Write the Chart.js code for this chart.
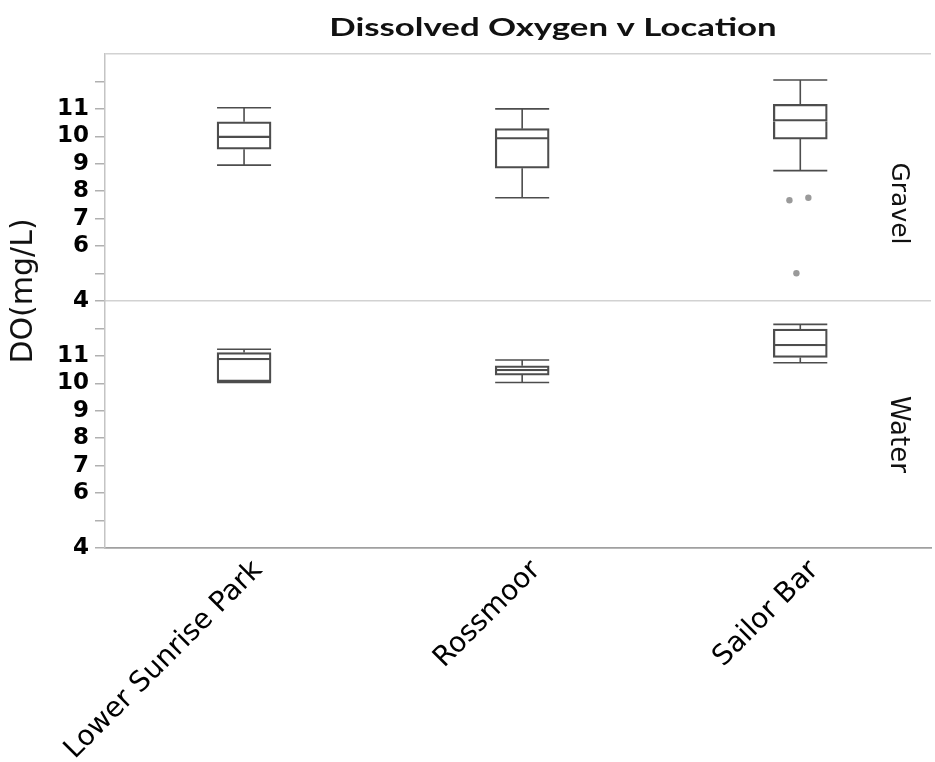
<!DOCTYPE html>
<html>
<head>
<meta charset="utf-8">
<script src="https://cdn.jsdelivr.net/npm/chart.js@4.4.1/dist/chart.umd.min.js"></script>
<style>
  html, body { margin: 0; padding: 0; background: #ffffff; }
  #wrap { width: 935px; height: 762px; }
</style>
</head>
<body>
<div id="wrap"><canvas id="c"></canvas></div>
<script>
// Dissolved oxygen (mg/L) by sampling location, split by habitat
const locations = ['Lower Sunrise Park', 'Rossmoor', 'Sailor Bar'];

// Gravel: five-number summaries per location
const gravelMin    = [8.95, 7.76, 8.75];
const gravelQ1     = [9.53, 8.84, 9.90];
const gravelMedian = [9.95, 9.90, 10.55];
const gravelQ3     = [10.53, 10.28, 11.17];
const gravelMax    = [11.04, 11.00, 12.05];

// Water: five-number summaries per location
const waterMin    = [10.03, 10.03, 10.75];
const waterQ1     = [10.06, 10.30, 10.94];
const waterMedian = [10.85, 10.45, 11.36];
const waterQ3     = [11.12, 10.64, 11.98];
const waterMax    = [11.24, 10.85, 12.15];

// Gravel outliers at Sailor Bar (x = location index, jittered)
const gravelOutliers = [
  { x: 1.961, y: 7.67 },
  { x: 2.029, y: 7.76 },
  { x: 1.986, y: 5.01 }
];

// Value axis ticks (each panel)
const yTickValues = [4, 5, 6, 7, 8, 9, 10, 11, 12, 13];
const yTickLabels = { 4: '4', 6: '6', 7: '7', 8: '8', 9: '9', 10: '10', 11: '11' };

const BOX_COLOR = '#4d4d4d';
const BOX_WIDTH = 54;
const LINE_W = 1.6;

// one half of a box: lower half has no top edge, so the median is a single line
function boxPart(lo, hi, axisId, withTop) {
  return {
    type: 'bar',
    yAxisID: axisId,
    data: locations.map((_, i) => ({ x: i, y: [lo[i], hi[i]] })),
    grouped: false,
    barThickness: BOX_WIDTH,
    borderWidth: { top: withTop ? LINE_W : 0, bottom: LINE_W, left: LINE_W, right: LINE_W },
    borderColor: BOX_COLOR,
    backgroundColor: 'rgba(255,255,255,0)',
    borderSkipped: false
  };
}

// whiskers and end caps drawn through the chart's scales
const whiskerPlugin = {
  id: 'whiskers',
  afterDatasetsDraw(chart) {
    const { ctx } = chart;
    const xs = chart.scales.x;
    const panels = [
      { scale: chart.scales.yGravel, min: gravelMin, q1: gravelQ1, q3: gravelQ3, max: gravelMax },
      { scale: chart.scales.yWater, min: waterMin, q1: waterQ1, q3: waterQ3, max: waterMax }
    ];
    ctx.save();
    ctx.strokeStyle = BOX_COLOR;
    ctx.lineWidth = LINE_W;
    panels.forEach(p => {
      locations.forEach((_, i) => {
        const cx = xs.getPixelForValue(i);
        const half = BOX_WIDTH / 2;
        const yMin = p.scale.getPixelForValue(p.min[i]);
        const yQ1 = p.scale.getPixelForValue(p.q1[i]);
        const yQ3 = p.scale.getPixelForValue(p.q3[i]);
        const yMax = p.scale.getPixelForValue(p.max[i]);
        ctx.beginPath();
        ctx.moveTo(cx, yQ3); ctx.lineTo(cx, yMax);
        ctx.moveTo(cx, yQ1); ctx.lineTo(cx, yMin);
        ctx.moveTo(cx - half, yMax); ctx.lineTo(cx + half, yMax);
        ctx.moveTo(cx - half, yMin); ctx.lineTo(cx + half, yMin);
        ctx.stroke();
      });
    });
    ctx.restore();
  }
};

// title, value-axis title and panel labels
const labelsPlugin = {
  id: 'panelLabels',
  afterDraw(chart) {
    const { ctx, chartArea } = chart;
    const g = chart.scales.yGravel;
    const w = chart.scales.yWater;
    ctx.save();
    ctx.fillStyle = '#111111';

    // chart title
    ctx.save();
    ctx.translate(553, 28);
    ctx.scale(1.45, 1);
    ctx.font = 'bold 24px Lato';
    ctx.textAlign = 'center';
    ctx.textBaseline = 'middle';
    ctx.fillText('Dissolved Oxygen v Location', 0, 0);
    ctx.restore();

    // value axis title
    ctx.save();
    ctx.translate(24, 291);
    ctx.rotate(-Math.PI / 2);
    ctx.font = '30px "DejaVu Sans"';
    ctx.textAlign = 'center';
    ctx.textBaseline = 'middle';
    ctx.fillText('DO(mg/L)', 0, 0);
    ctx.restore();

    // panel labels on the right
    const px = chartArea.right - 33;
    [[g, 'Gravel', 25, 26], [w, 'Water', 26, 10]].forEach(([s, text, size, shift]) => {
      ctx.save();
      ctx.translate(px, (s.top + s.bottom) / 2 + shift);
      ctx.rotate(Math.PI / 2);
      ctx.font = size + 'px "DejaVu Sans"';
      ctx.textAlign = 'center';
      ctx.textBaseline = 'middle';
      ctx.fillText(text, 0, 0);
      ctx.restore();
    });
    ctx.restore();
  }
};

function valueAxis(isGravel) {
  return {
    type: 'linear',
    position: 'left',
    stack: 'do',
    stackWeight: 1,
    offset: false,
    min: 4,
    max: 13,
    afterBuildTicks: s => { s.ticks = yTickValues.map(v => ({ value: v })); },
    afterFit: s => { s.width = 105; },
    ticks: {
      autoSkip: false,
      padding: 6,
      color: '#000000',
      font: { family: 'DejaVu Sans', weight: 'bold', size: 23 },
      callback: v => yTickLabels[v] !== undefined ? yTickLabels[v] : ''
    },
    grid: {
      drawOnChartArea: true,
      drawTicks: true,
      tickLength: 10,
      lineWidth: 1.5,
      tickWidth: 1.5,
      color: ctx => (isGravel && ctx.tick && (ctx.tick.value === 4 || ctx.tick.value === 13)) ? '#d2d2d2' : 'rgba(0,0,0,0)',
      tickColor: ctx => (ctx.tick && ctx.tick.value === 13) ? 'rgba(0,0,0,0)' : '#b0b0b0'
    },
    border: { display: true, color: '#c4c4c4', width: 1.5 }
  };
}

const chart = new Chart(document.getElementById('c'), {
  type: 'bar',
  data: {
    datasets: [
      boxPart(gravelQ1, gravelMedian, 'yGravel', false),
      boxPart(gravelMedian, gravelQ3, 'yGravel', true),
      boxPart(waterQ1, waterMedian, 'yWater', false),
      boxPart(waterMedian, waterQ3, 'yWater', true),
      {
        type: 'scatter',
        yAxisID: 'yGravel',
        data: gravelOutliers,
        pointRadius: 3.2,
        pointBackgroundColor: '#9a9a9a',
        pointBorderWidth: 0
      }
    ]
  },
  options: {
    responsive: true,
    maintainAspectRatio: false,
    animation: false,
    layout: { padding: { top: 54, right: 0, bottom: 0, left: 0 } },
    plugins: { legend: { display: false }, tooltip: { enabled: false }, title: { display: false } },
    scales: {
      x: {
        type: 'linear',
        offset: false,
        min: -0.5,
        max: 2.47,
        afterBuildTicks: s => { s.ticks = locations.map((_, i) => ({ value: i })); },
        afterFit: s => { s.height = 214; },
        ticks: {
          autoSkip: false,
          minRotation: 45,
          maxRotation: 45,
          padding: 6,
          labelOffset: 14,
          color: '#000000',
          font: { family: 'DejaVu Sans', size: 28 },
          callback: v => locations[v]
        },
        grid: { display: false, drawTicks: false, offset: false },
        border: { display: true, color: '#a0a0a0', width: 1.8 }
      },
      yWater: valueAxis(false),
      yGravel: valueAxis(true)
    }
  },
  plugins: [whiskerPlugin, labelsPlugin]
});
</script>
</body>
</html>
